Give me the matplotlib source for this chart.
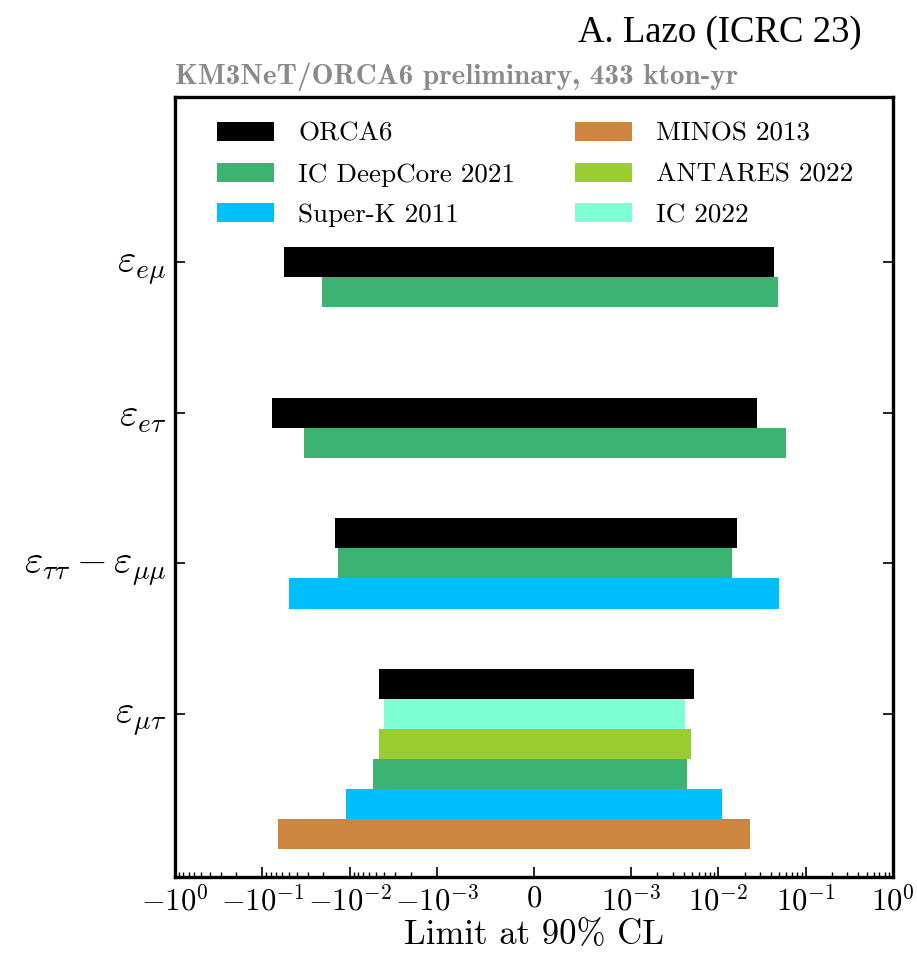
import matplotlib
matplotlib.use("Agg")
import matplotlib.pyplot as plt
from matplotlib.ticker import FixedLocator, NullFormatter
from matplotlib.patches import Patch

plt.rcParams["font.family"] = "serif"
plt.rcParams["font.serif"] = ["cmr10"]
plt.rcParams["mathtext.fontset"] = "cm"
plt.rcParams["axes.formatter.use_mathtext"] = True

# NSI parameters (y-axis categories)
categories = [r"$\varepsilon_{e\mu}$", r"$\varepsilon_{e\tau}$",
              r"$\varepsilon_{\tau\tau}-\varepsilon_{\mu\mu}$", r"$\varepsilon_{\mu\tau}$"]

# 90% CL limits per experiment: (category index, lower, upper)
orca6_cat = [0, 1, 2, 3]
orca6_lo = [-0.056, -0.077, -0.0149, -0.0046]
orca6_hi = [0.043, 0.028, 0.0165, 0.0052]

deepcore_cat = [0, 1, 2, 3]
deepcore_lo = [-0.0208, -0.0335, -0.0135, -0.0054]
deepcore_hi = [0.0485, 0.0599, 0.0142, 0.0044]

superk_cat = [2, 3]
superk_lo = [-0.049, -0.011]
superk_hi = [0.049, 0.011]

minos_cat = [3]
minos_lo = [-0.067]
minos_hi = [0.023]

antares_cat = [3]
antares_lo = [-0.0046]
antares_hi = [0.0048]

ic2022_cat = [3]
ic2022_lo = [-0.0040]
ic2022_hi = [0.0041]

xtick_values = [-1, -0.1, -0.01, -0.001, 0, 0.001, 0.01, 0.1, 1]
xtick_labels = [r"$-10^{0}$", r"$-10^{-1}$", r"$-10^{-2}$", r"$-10^{-3}$", r"$0$",
                r"$10^{-3}$", r"$10^{-2}$", r"$10^{-1}$", r"$10^{0}$"]

# Layout: bar slot (in bar-heights) of each experiment within each category row
BAR_H = 0.2
slots = {
    "orca6":    {0: 0, 1: 0, 2: -1, 3: -1},
    "deepcore": {0: 1, 1: 1, 2: 0, 3: 2},
    "superk":   {2: 1, 3: 3},
    "minos":    {3: 4},
    "antares":  {3: 1},
    "ic2022":   {3: 0},
}
colors = {
    "orca6": "black",
    "deepcore": "mediumseagreen",
    "superk": "deepskyblue",
    "minos": "peru",
    "antares": "yellowgreen",
    "ic2022": "aquamarine",
}
labels = {
    "orca6": "ORCA6",
    "deepcore": "IC DeepCore 2021",
    "superk": "Super-K 2011",
    "minos": "MINOS 2013",
    "antares": "ANTARES 2022",
    "ic2022": "IC 2022",
}
series = {
    "orca6": (orca6_cat, orca6_lo, orca6_hi),
    "deepcore": (deepcore_cat, deepcore_lo, deepcore_hi),
    "superk": (superk_cat, superk_lo, superk_hi),
    "minos": (minos_cat, minos_lo, minos_hi),
    "antares": (antares_cat, antares_lo, antares_hi),
    "ic2022": (ic2022_cat, ic2022_lo, ic2022_hi),
}

fig = plt.figure(figsize=(9.17, 9.56), dpi=100)
ax = fig.add_axes([175 / 917, 1 - 877 / 956, (893 - 175) / 917, (877 - 97) / 956])

for key, (cats, lo, hi) in series.items():
    ys = [c + slots[key][c] * BAR_H for c in cats]
    widths = [h - l for l, h in zip(lo, hi)]
    ax.barh(ys, widths, left=lo, height=BAR_H, color=colors[key], linewidth=0)

ax.set_xscale("symlog", linthresh=1e-3, linscale=1.0)
ax.set_xlim(-1, 1)
ax.set_xticks(xtick_values)
ax.set_xticklabels(xtick_labels)

minor = []
for d in [1e-3, 1e-2, 1e-1]:
    for k in range(2, 10):
        minor += [k * d, -k * d]
ax.xaxis.set_minor_locator(FixedLocator(minor))
ax.xaxis.set_minor_formatter(NullFormatter())

ax.set_yticks(range(len(categories)))
ax.set_yticklabels(categories)
ax.set_ylim(4.083, -1.098)

ax.tick_params(axis="x", which="major", direction="in", length=7, width=1.2,
               labelsize=22, pad=6, top=False)
ax.tick_params(axis="x", which="minor", direction="in", length=3.5, width=1.0, top=False)
ax.tick_params(axis="y", which="major", direction="in", length=7, width=1.2,
               labelsize=28.5, right=True, pad=6)
for s in ax.spines.values():
    s.set_linewidth(2.4)

ax.set_xlabel("Limit at 90% CL", fontsize=25, labelpad=2)

order = ["orca6", "deepcore", "superk", "minos", "antares", "ic2022"]
handles = [Patch(facecolor=colors[k], edgecolor="none", label=labels[k]) for k in order]
ax.legend(handles=handles, ncol=2, loc="upper left", bbox_to_anchor=(0.0585, 0.968),
          frameon=False, fontsize=19.5, borderaxespad=0, borderpad=0,
          handlelength=2.1, handleheight=0.7, handletextpad=0.9,
          labelspacing=0.62, columnspacing=2.2)

fig.text(175 / 917, 1 - 84 / 956, "KM3NeT/ORCA6 preliminary, 433 kton-yr",
         fontfamily="cmb10", fontsize=21, color="#8a8a8a", va="baseline", ha="left")
fig.text(719.5 / 917, 1 - 42 / 956, "A. Lazo (ICRC 23)",
         fontfamily="Liberation Serif", fontsize=26.5, color="black",
         va="baseline", ha="center")

fig.savefig("out.png", dpi=100)
